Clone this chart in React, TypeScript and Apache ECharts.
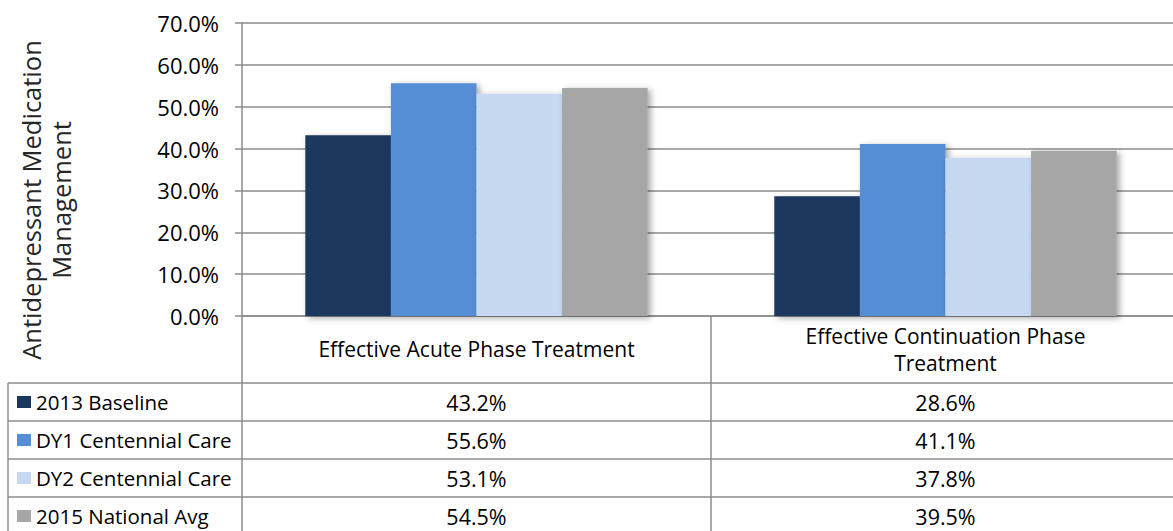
import React, { useEffect, useRef } from "react";
import * as echarts from "echarts";

const categories = ["Effective Acute Phase Treatment", "Effective Continuation Phase Treatment"];
const seriesNames = ["2013 Baseline", "DY1 Centennial Care", "DY2 Centennial Care", "2015 National Avg"];
const baseline2013 = [43.2, 28.6];
const dy1Centennial = [55.6, 41.1];
const dy2Centennial = [53.1, 37.8];
const national2015 = [54.5, 39.5];
const seriesValues = [baseline2013, dy1Centennial, dy2Centennial, national2015];
const colors = ["#1A375E", "#558ED5", "#C6D9F1", "#A6A6A6"];
const yTitle = "Antidepressant Medication\nManagement";

const FONT = "'Open Sans', sans-serif";
const GRID_LEFT = 242;
const GRID_TOP = 23;
const AXIS_Y = 316;
const W = 1181;
const H = 531;
const ROW_TOP = 383;
const ROW_H = 38;
const LINE = "#8C8C8C";

export default function App() {
  const ref = useRef<HTMLDivElement>(null);
  useEffect(() => {
    document.body.style.margin = "0";
    document.body.style.overflow = "hidden";
    const chart = echarts.init(ref.current!, null, { renderer: "svg" });
    const option: any = {
      animation: false,
      backgroundColor: "#ffffff",
      grid: { left: GRID_LEFT, top: GRID_TOP, right: 1, bottom: H - AXIS_Y },
      xAxis: {
        type: "category",
        data: categories,
        axisLine: { show: true, lineStyle: { color: LINE, width: 1.5 } },
        axisTick: { show: true, length: H - AXIS_Y, lineStyle: { color: LINE, width: 1.5 } },
        axisLabel: {
          interval: 0,
          margin: 33,
          verticalAlign: "middle",
          fontFamily: FONT,
          fontSize: 21,
          lineHeight: 27,
          color: "#000",
          formatter: (v: string) => (v.length > 32 ? v.replace(" Treatment", "\nTreatment") : v),
        },
      },
      yAxis: {
        type: "value",
        min: 0,
        max: 70,
        interval: 10,
        axisLine: { show: true, lineStyle: { color: LINE, width: 1.5 } },
        axisTick: { show: true, length: 7, lineStyle: { color: LINE, width: 1.5 } },
        splitLine: { show: true, lineStyle: { color: LINE, width: 1.5 } },
        axisLabel: {
          margin: 23,
          fontFamily: FONT,
          fontSize: 22,
          color: "#000",
          formatter: (v: number) => v.toFixed(1) + "%",
        },
      },
      series: seriesNames.map((name, i) => ({
        name,
        type: "bar",
        data: seriesValues[i],
        barGap: "0%",
        barCategoryGap: "27%",
        itemStyle: {
          color: colors[i],
          shadowBlur: 6,
          shadowOffsetX: 3,
          shadowOffsetY: 2,
          shadowColor: "rgba(0,0,0,0.35)",
        },
      })),
    };
    chart.setOption(option);

    const graphics: any[] = [];
    graphics.push({
      type: "text",
      x: 46,
      y: 200,
      rotation: Math.PI / 2,
      style: {
        text: yTitle,
        fontFamily: FONT,
        fontSize: 25.5,
        lineHeight: 30,
        fill: "#262626",
        align: "center",
        verticalAlign: "middle",
      },
    });
    for (let r = 0; r < 4; r++) {
      const y = ROW_TOP + r * ROW_H;
      graphics.push({
        type: "line",
        shape: { x1: 8, y1: y, x2: W, y2: y },
        style: { stroke: LINE, lineWidth: 1.5 },
      });
    }
    graphics.push({
      type: "line",
      shape: { x1: 8, y1: ROW_TOP, x2: 8, y2: H },
      style: { stroke: LINE, lineWidth: 1.5 },
    });
    seriesNames.forEach((name, r) => {
      const cy = ROW_TOP + r * ROW_H + ROW_H / 2;
      graphics.push({
        type: "rect",
        shape: { x: 17, y: cy - 6, width: 14, height: 12 },
        style: { fill: colors[r] },
      });
      graphics.push({
        type: "text",
        x: 36,
        y: cy,
        style: {
          text: name,
          fontFamily: FONT,
          fontSize: 20.5,
          fill: "#000",
          align: "left",
          verticalAlign: "middle",
        },
      });
    });
    categories.forEach((c, ci) => {
      const cx = chart.convertToPixel({ xAxisIndex: 0 }, c) as number;
      seriesValues.forEach((vals, r) => {
        graphics.push({
          type: "text",
          x: cx,
          y: ROW_TOP + r * ROW_H + ROW_H / 2,
          style: {
            text: vals[ci].toFixed(1) + "%",
            fontFamily: FONT,
            fontSize: 21.5,
            fill: "#000",
            align: "center",
            verticalAlign: "middle",
          },
        });
      });
    });
    chart.setOption({ graphic: graphics });
    return () => chart.dispose();
  }, []);
  return (
    <div style={{ position: "fixed", left: 0, top: 0, width: 1173, height: H, overflow: "hidden", background: "#fff" }}>
      <div ref={ref} style={{ position: "absolute", left: 0, top: 0, width: W, height: H }} />
    </div>
  );
}
